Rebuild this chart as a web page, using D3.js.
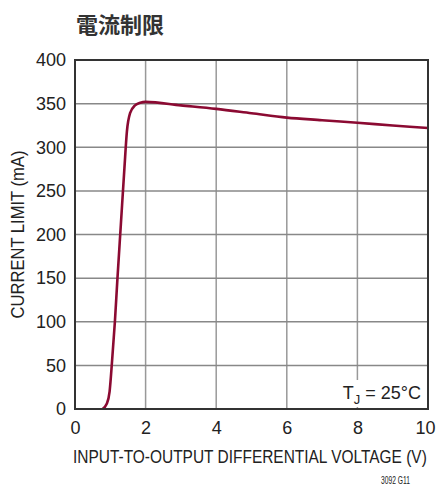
<!doctype html>
<html>
<head>
<meta charset="utf-8">
<style>
  body { margin: 0; background: #fff; }
  svg { font-family: "Liberation Sans", sans-serif; }
</style>
</head>
<body>
<div id="chart"></div>
<script src="https://d3js.org/d3.v7.min.js"></script>
<script>
// data
const volts = [0.78, 0.9, 0.98, 1.05, 1.13, 1.2, 1.3, 1.4, 1.47, 1.56, 1.7, 1.85, 2.0, 3, 4, 5, 6, 7, 8, 9, 10];
const current = [0, 6, 20, 55, 100, 148, 212, 276, 318, 339, 348, 351, 352, 348, 344, 339, 334, 331, 328, 325, 322];
const xTicks = [0, 2, 4, 6, 8, 10];
const yTicks = [0, 50, 100, 150, 200, 250, 300, 350, 400];

const W = 439, H = 487;
const m = {left: 75, right: 11, top: 60, bottom: 78};

const svg = d3.select("#chart").append("svg")
  .attr("width", W).attr("height", H);

const x = d3.scaleLinear().domain([0, 10]).range([m.left, W - m.right]);
const y = d3.scaleLinear().domain([0, 400]).range([H - m.bottom, m.top]);

// title
svg.append("text")
  .attr("x", 76).attr("y", 33)
  .style("font-family", "'Noto Sans CJK JP', sans-serif")
  .style("font-weight", "bold")
  .style("font-size", "22px")
  .attr("fill", "#333")
  .text("電流制限");

// grid
svg.append("g").selectAll("line")
  .data(xTicks.slice(1, -1))
  .enter().append("line")
    .attr("x1", d => x(d)).attr("x2", d => x(d))
    .attr("y1", y(400)).attr("y2", y(0))
    .attr("stroke", "#999").attr("stroke-width", 1.5);

svg.append("g").selectAll("line")
  .data(yTicks.slice(1, -1))
  .enter().append("line")
    .attr("y1", d => y(d)).attr("y2", d => y(d))
    .attr("x1", x(0)).attr("x2", x(10))
    .attr("stroke", "#888").attr("stroke-width", 1.5);

// tick labels via axes
const xAxis = svg.append("g")
  .attr("transform", "translate(0," + y(0) + ")")
  .call(d3.axisBottom(x).tickValues(xTicks).tickSize(0).tickPadding(12));
const yAxis = svg.append("g")
  .attr("transform", "translate(" + x(0) + ",0)")
  .call(d3.axisLeft(y).tickValues(yTicks).tickSize(0).tickPadding(9));
[xAxis, yAxis].forEach(a => {
  a.select(".domain").remove();
  a.selectAll("text")
    .style("font-family", "'Liberation Sans', sans-serif")
    .style("font-size", "18px").attr("fill", "#222");
});
xAxis.selectAll("text").filter(d => d === 10).attr("dx", -3);

// T_J label with white backing
const tj = svg.append("g");
tj.append("rect")
  .attr("x", 340).attr("y", 380).attr("width", 84).attr("height", 27)
  .attr("fill", "#fff");
const tjText = tj.append("text")
  .attr("x", 421).attr("y", 399)
  .attr("text-anchor", "end")
  .style("font-size", "18px").attr("fill", "#222");
tjText.append("tspan").text("T");
tjText.append("tspan").attr("dy", 5).style("font-size", "13px").text("J");
tjText.append("tspan").attr("dy", -5).text(" = 25°C");

// curve
const line = d3.line()
  .x((d, i) => x(volts[i]))
  .y(d => y(d))
  .curve(d3.curveMonotoneX);
svg.append("path")
  .datum(current)
  .attr("d", line)
  .attr("fill", "none")
  .attr("stroke", "#8b0a32")
  .attr("stroke-width", 2.6)
  .attr("stroke-linejoin", "round");

// frame
svg.append("rect")
  .attr("x", x(0)).attr("y", y(400))
  .attr("width", x(10) - x(0)).attr("height", y(0) - y(400))
  .attr("fill", "none").attr("stroke", "#333").attr("stroke-width", 2);

// condensed text: squeeze horizontally to a target width
function narrowText(tx, ty, rot, want, size, str) {
  const g = svg.append("g");
  const t = g.append("text")
    .style("font-size", size + "px").attr("fill", "#222")
    .text(str);
  const w = t.node().getComputedTextLength();
  g.attr("transform", "translate(" + tx + "," + ty + ") rotate(" + rot + ") scale(" + (want / w) + ",1)");
  return t;
}

narrowText(73, 463, 0, 354, 19, "INPUT-TO-OUTPUT DIFFERENTIAL VOLTAGE (V)");
narrowText(24, y(200) + 84, -90, 168, 19, "CURRENT LIMIT (mA)");
narrowText(381, 484, 0, 29, 11, "3092 G11");
</script>
</body>
</html>
